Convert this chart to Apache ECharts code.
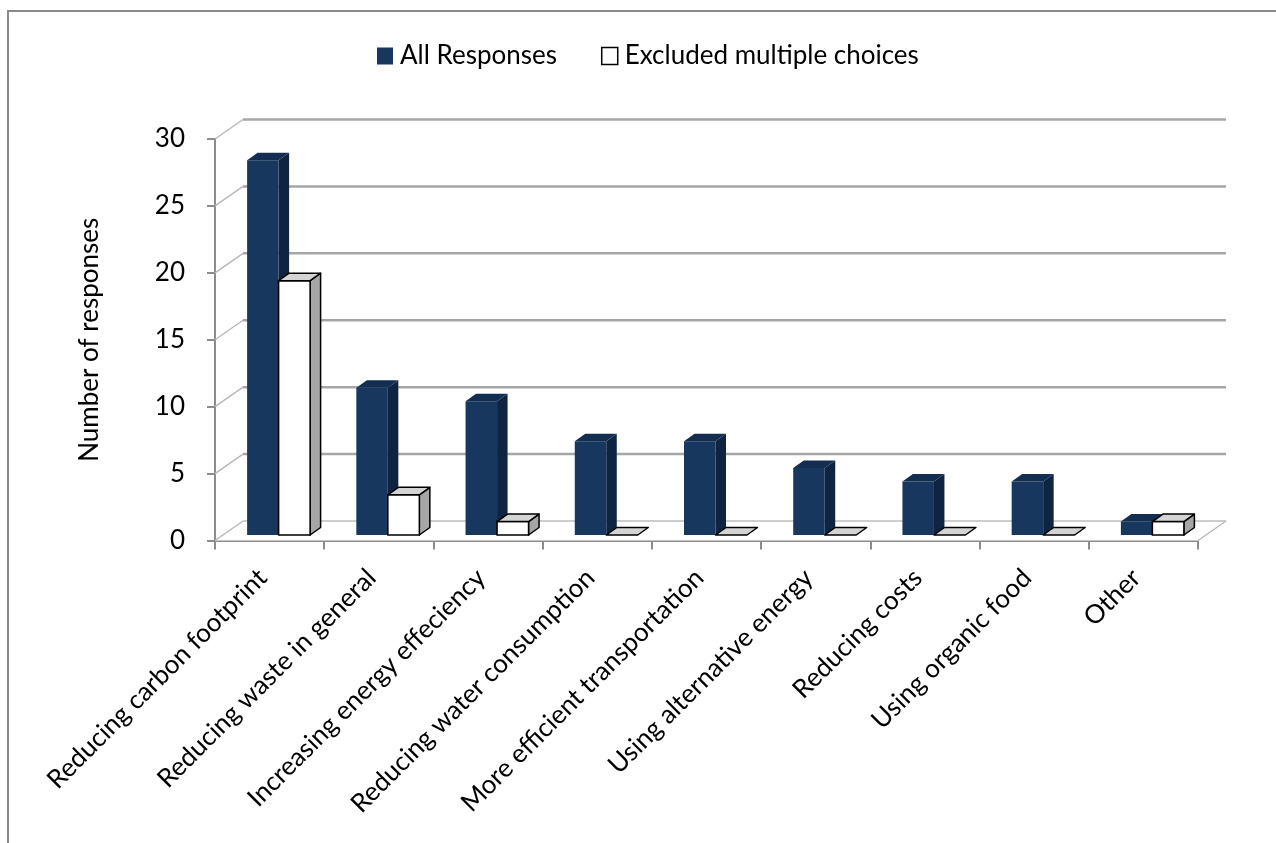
<!DOCTYPE html>
<html>
<head>
<meta charset="utf-8">
<title>Number of responses</title>
<script src="https://cdn.jsdelivr.net/npm/echarts@6/dist/echarts.min.js"></script>
<style>
  html, body { margin: 0; padding: 0; background: #ffffff; }
  #chart { width: 1276px; height: 843px; }
</style>
</head>
<body>
<div id="chart"></div>
<script>
// Survey answers, grouped by category
const categories = [
  'Reducing carbon footprint',
  'Reducing waste in general',
  'Increasing energy effeciency',
  'Reducing water consumption',
  'More efficient transportation',
  'Using alternative energy',
  'Reducing costs',
  'Using organic food',
  'Other'
];
const allResponses = [28, 11, 10, 7, 7, 5, 4, 4, 1];
const excludedMultiple = [19, 3, 1, 0, 0, 0, 0, 0, 1];
const seriesNames = ['All Responses', 'Excluded multiple choices'];
const yTicks = [0, 5, 10, 15, 20, 25, 30];

// Pseudo-3D geometry (pixels)
const WALL_DX = 28, WALL_DY = -19.5;   // depth of the floor / back wall
const BAR_DX = 10.5, BAR_DY = -7.5;    // depth of each bar
const BAR_FRONT_DX = 9, BAR_FRONT_DY = -5.5; // bars sit slightly behind the front edge
const BAR_W = 31.5;

const FONT = 'Lato, "Open Sans", sans-serif';

const chart = echarts.init(document.getElementById('chart'), null, { renderer: 'canvas' });

// Back wall gridlines + floor
function renderWalls(params, api) {
  const cs = params.coordSys;
  const v = api.value(0);
  const y = api.coord([0, v])[1];
  const x0 = cs.x, x1 = cs.x + cs.width;
  const children = [];
  if (params.dataIndex === 0) {
    children.push({
      type: 'polygon',
      shape: { points: [[x0, y], [x1, y], [x1 + WALL_DX, y + WALL_DY], [x0 + WALL_DX, y + WALL_DY]] },
      style: { fill: '#ffffff', stroke: null },
      z2: 0
    });
    children.push({
      type: 'line',
      shape: { x1: x1, y1: y, x2: x1 + WALL_DX, y2: y + WALL_DY },
      style: { stroke: '#b8b8b8', lineWidth: 1.5 },
      z2: 1
    });
  }
  children.push({
    type: 'line',
    shape: { x1: x0, y1: y, x2: x0 + WALL_DX, y2: y + WALL_DY },
    style: { stroke: '#b8b8b8', lineWidth: 1.5 },
    z2: 1
  });
  children.push({
    type: 'line',
    shape: { x1: x0 + WALL_DX, y1: y + WALL_DY, x2: x1 + WALL_DX, y2: y + WALL_DY },
    style: { stroke: v === 0 ? '#bdbdbd' : '#a6a6a6', lineWidth: v === 0 ? 1.5 : 2.5 },
    z2: 1
  });
  return { type: 'group', children: children };
}

function makeBarRenderer(slot, faces) {
  return function (params, api) {
    const idx = api.value(0);
    const val = api.value(1);
    const base = api.coord([idx, 0]);
    const top = api.coord([idx, val]);
    const pc = base[0] + BAR_FRONT_DX;
    const xl = pc + (slot === 0 ? -BAR_W : 0);
    const xr = xl + BAR_W;
    const yb = base[1] + BAR_FRONT_DY;
    const yt = top[1] + BAR_FRONT_DY;
    const children = [];
    if (yb - yt > 0.01) {
      children.push({
        type: 'polygon',
        shape: { points: [[xr, yt], [xr + BAR_DX, yt + BAR_DY], [xr + BAR_DX, yb + BAR_DY], [xr, yb]] },
        style: { fill: faces.side, stroke: faces.stroke, lineWidth: faces.lineWidth, lineJoin: 'round' }
      });
      children.push({
        type: 'rect',
        shape: { x: xl, y: yt, width: BAR_W, height: yb - yt },
        style: { fill: faces.front, stroke: faces.stroke, lineWidth: faces.lineWidth }
      });
    }
    children.push({
      type: 'polygon',
      shape: { points: [[xl, yt], [xl + BAR_DX, yt + BAR_DY], [xr + BAR_DX, yt + BAR_DY], [xr, yt]] },
      style: { fill: faces.top, stroke: faces.stroke, lineWidth: faces.lineWidth, lineJoin: 'round' }
    });
    return { type: 'group', children: children };
  };
}

const blueFaces = { front: '#17375e', side: '#0f2440', top: '#132e50', stroke: null, lineWidth: 0 };
const whiteFaces = { front: '#ffffff', side: '#a6a6a6', top: '#d4d4d4', stroke: '#000000', lineWidth: 1.5 };

const option = {
  backgroundColor: '#ffffff',
  animation: false,
  textStyle: { fontFamily: FONT },
  graphic: [{
    type: 'rect',
    shape: { x: 8, y: 11, width: 1300, height: 900 },
    style: { fill: null, stroke: '#8a8a8a', lineWidth: 2 },
    z: -10,
    silent: true
  }],
  legend: {
    top: 38,
    left: 372,
    itemWidth: 16,
    itemHeight: 17,
    itemGap: 44,
    icon: 'rect',
    textStyle: { fontFamily: FONT, fontSize: 26, color: '#000000', padding: [0, 0, 0, 2] },
    data: [
      { name: seriesNames[0], itemStyle: { color: '#17375e', borderWidth: 0 } },
      { name: seriesNames[1], itemStyle: { color: '#ffffff', borderColor: '#000000', borderWidth: 1.5 } }
    ]
  },
  grid: { left: 215, right: 78, top: 139, bottom: 302.5, containLabel: false },
  xAxis: {
    type: 'category',
    data: categories,
    boundaryGap: true,
    axisLine: { show: true, lineStyle: { color: '#8c8c8c', width: 2 } },
    axisTick: { show: true, length: 9, alignWithLabel: false, lineStyle: { color: '#8c8c8c', width: 2 } },
    axisLabel: {
      interval: 0,
      rotate: 45,
      margin: 26,
      padding: [0, 10, 0, 0],
      fontFamily: FONT,
      fontSize: 26,
      color: '#000000'
    },
    splitLine: { show: false }
  },
  yAxis: {
    type: 'value',
    min: 0,
    max: 30,
    interval: 5,
    name: 'Number of responses',
    nameLocation: 'middle',
    nameRotate: 90,
    nameGap: 112,
    nameTextStyle: { fontFamily: FONT, fontSize: 26, color: '#000000' },
    axisLine: { show: true, lineStyle: { color: '#8c8c8c', width: 2 } },
    axisTick: { show: true, length: 8, lineStyle: { color: '#8c8c8c', width: 2 } },
    axisLabel: { margin: 30, padding: [5, 0, 0, 0], fontFamily: FONT, fontSize: 26, color: '#000000' },
    splitLine: { show: false }
  },
  series: [
    {
      type: 'custom',
      name: 'walls',
      z: 1,
      silent: true,
      renderItem: renderWalls,
      encode: { y: 0 },
      data: yTicks.map(function (t) { return [t]; })
    },
    {
      type: 'custom',
      name: seriesNames[0],
      z: 3,
      itemStyle: { color: '#17375e' },
      renderItem: makeBarRenderer(0, blueFaces),
      encode: { x: 0, y: 1 },
      data: allResponses.map(function (v, i) { return [i, v]; })
    },
    {
      type: 'custom',
      name: seriesNames[1],
      z: 4,
      itemStyle: { color: '#ffffff', borderColor: '#000000', borderWidth: 1.5 },
      renderItem: makeBarRenderer(1, whiteFaces),
      encode: { x: 0, y: 1 },
      data: excludedMultiple.map(function (v, i) { return [i, v]; })
    }
  ]
};

chart.setOption(option);
</script>
</body>
</html>
